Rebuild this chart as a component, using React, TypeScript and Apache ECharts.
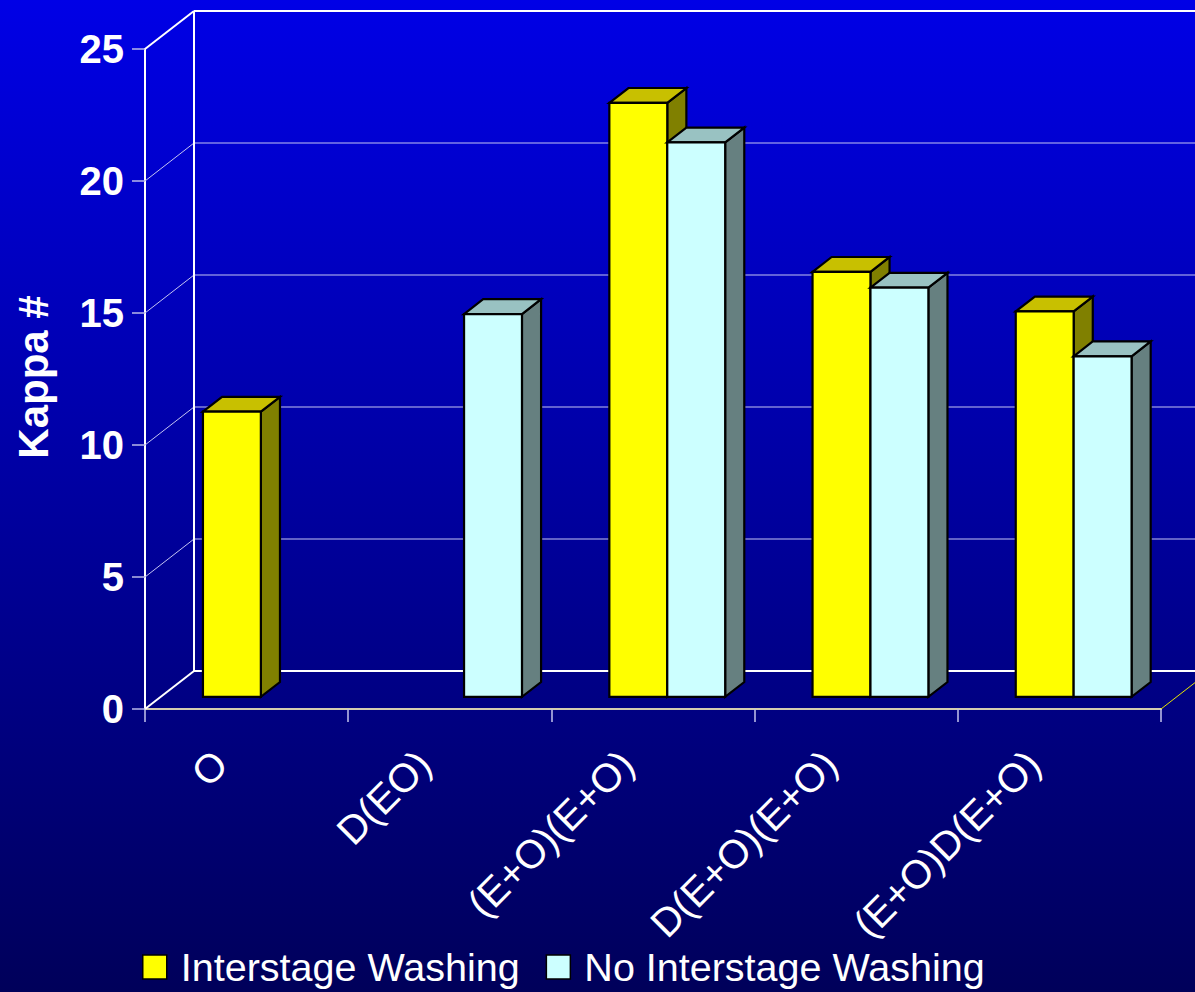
import React, { useEffect, useRef } from "react";
import * as echarts from "echarts";

// Kappa number after each bleaching sequence
const categories = ["O", "D(EO)", "(E+O)(E+O)", "D(E+O)(E+O)", "(E+O)D(E+O)"];
const interstageWashing: (number | null)[] = [10.8, null, 22.5, 16.1, 14.6];
const noInterstageWashing: (number | null)[] = [null, 14.5, 21.0, 15.5, 12.9];
const kappaTicks = [0, 5, 10, 15, 20, 25];
const seriesNames = ["Interstage Washing", "No Interstage Washing"];

const FONT = "'Liberation Sans', Arial, Helvetica, sans-serif";

// pseudo-3D geometry: offset of the back wall from the front plane (px)
const DEPTH_X = 49;
const DEPTH_Y = -38;
// bars sit between these depth fractions of the floor
const BAR_FRONT = 0.32;
const BAR_BACK = 0.71;
// horizontal layout inside one category band
const BAR_GAP = 0.208;
const BAR_W = 0.285;

const palette = [
  { front: "#FFFF00", top: "#C8C000", side: "#808000" },
  { front: "#CCFFFF", top: "#99C2C2", side: "#668080" },
];

function barRenderer(s: number) {
  return (params: any, api: any) => {
    const cat = api.value(0);
    const v = api.value(1);
    const [cx, yv] = api.coord([cat, v]);
    const y0 = api.coord([cat, 0])[1];
    const band = api.size([1, 0])[0];
    const fx = BAR_FRONT * DEPTH_X;
    const fy = BAR_FRONT * DEPTH_Y;
    const dx = (BAR_BACK - BAR_FRONT) * DEPTH_X;
    const dy = (BAR_BACK - BAR_FRONT) * DEPTH_Y;
    const w = band * BAR_W;
    const x0 = cx - band / 2 + band * BAR_GAP + s * w + fx;
    const x1 = x0 + w;
    const yt = yv + fy;
    const yb = y0 + fy;
    const c = palette[s];
    const edge = { stroke: "#000000", lineWidth: 2.2, lineJoin: "miter" };
    return {
      type: "group",
      children: [
        {
          type: "polygon",
          shape: { points: [[x1, yt], [x1 + dx, yt + dy], [x1 + dx, yb + dy], [x1, yb]] },
          style: { fill: c.side, ...edge },
        },
        {
          type: "polygon",
          shape: { points: [[x0, yt], [x1, yt], [x1 + dx, yt + dy], [x0 + dx, yt + dy]] },
          style: { fill: c.top, ...edge },
        },
        {
          type: "rect",
          shape: { x: x0, y: yt, width: w, height: yb - yt },
          style: { fill: c.front, ...edge },
        },
      ],
    };
  };
}

// back wall, side wall and floor edges of the 3D box
function frameRenderer(params: any, api: any) {
  const cs = params.coordSys;
  const left = cs.x;
  const right = cs.x + cs.width;
  const strong = { stroke: "#FFFFFF", lineWidth: 2 };
  const soft = { stroke: "#C4C4F2", lineWidth: 1 };
  const children: any[] = [];
  kappaTicks.forEach((t, k) => {
    const y = api.coord([0, t])[1];
    const isEdge = k === 0 || k === kappaTicks.length - 1;
    children.push({
      type: "line",
      shape: { x1: left + DEPTH_X, y1: y + DEPTH_Y, x2: right + DEPTH_X, y2: y + DEPTH_Y },
      style: isEdge ? strong : soft,
    });
    children.push({
      type: "line",
      shape: { x1: left, y1: y, x2: left + DEPTH_X, y2: y + DEPTH_Y },
      style: isEdge ? strong : soft,
    });
  });
  const yTop = api.coord([0, kappaTicks[kappaTicks.length - 1]])[1];
  const yBottom = api.coord([0, 0])[1];
  children.push({
    type: "line",
    shape: { x1: left + DEPTH_X, y1: yTop + DEPTH_Y, x2: left + DEPTH_X, y2: yBottom + DEPTH_Y },
    style: strong,
  });
  children.push({
    type: "line",
    shape: { x1: right, y1: yBottom, x2: right + DEPTH_X, y2: yBottom + DEPTH_Y },
    style: { stroke: "#E6E600", lineWidth: 1 },
  });
  return { type: "group", children };
}

function toItems(values: (number | null)[]) {
  const out: number[][] = [];
  values.forEach((v, i) => {
    if (v != null) out.push([i, v]);
  });
  return out;
}

export default function App() {
  const ref = useRef<HTMLDivElement>(null);

  useEffect(() => {
    if (!ref.current) return;
    const chart = echarts.init(ref.current, undefined, { renderer: "svg" });
    chart.setOption({
      animation: false,
      backgroundColor: new echarts.graphic.LinearGradient(0, 0, 0, 1, [
        { offset: 0, color: "#0000E6" },
        { offset: 1, color: "#00005A" },
      ]),
      grid: { left: 145, right: 34, top: 49, bottom: 283 },
      xAxis: {
        type: "category",
        data: categories,
        boundaryGap: true,
        axisLine: { show: true, lineStyle: { color: "#D4CCB0", width: 2 } },
        axisTick: { show: true, length: 13, lineStyle: { color: "#C4C4EC", width: 1.5 } },
        axisLabel: {
          interval: 0,
          rotate: 45,
          color: "#FFFFFF",
          fontSize: 40,
          fontFamily: FONT,
          margin: 22,
          padding: [0, 37, 0, 0],
        },
        splitLine: { show: false },
      },
      yAxis: {
        type: "value",
        min: 0,
        max: 25,
        interval: 5,
        axisLine: { show: true, lineStyle: { color: "#FFFFFF", width: 2 } },
        axisTick: { show: true, length: 13, lineStyle: { color: "#B8B8E8", width: 1.5 } },
        axisLabel: {
          color: "#FFFFFF",
          fontSize: 40,
          fontWeight: "bold",
          fontFamily: FONT,
          margin: 21,
        },
        splitLine: { show: false },
      },
      legend: {
        left: 142,
        top: 947,
        padding: 0,
        itemWidth: 24,
        itemHeight: 24,
        itemGap: 26,
        icon: "rect",
        selectedMode: false,
        data: [
          { name: seriesNames[0], itemStyle: { color: palette[0].front, borderColor: "#000", borderWidth: 1.5 } },
          { name: seriesNames[1], itemStyle: { color: palette[1].front, borderColor: "#000", borderWidth: 1.5 } },
        ],
        textStyle: { color: "#FFFFFF", fontSize: 39.5, fontFamily: FONT, padding: [0, 0, 0, 9] },
      },
      graphic: [
        {
          type: "text",
          x: 33,
          y: 377,
          rotation: Math.PI / 2,
          style: {
            text: "Kappa #",
            fill: "#FFFFFF",
            font: `bold 42px ${FONT}`,
            align: "center",
            verticalAlign: "middle",
          },
        },
      ],
      series: [
        {
          type: "custom",
          name: "frame",
          silent: true,
          z: 1,
          data: [[0, 0]],
          renderItem: frameRenderer,
        },
        {
          type: "custom",
          name: seriesNames[0],
          z: 3,
          itemStyle: { color: palette[0].front },
          data: toItems(interstageWashing),
          renderItem: barRenderer(0),
        },
        {
          type: "custom",
          name: seriesNames[1],
          z: 3,
          itemStyle: { color: palette[1].front },
          data: toItems(noInterstageWashing),
          renderItem: barRenderer(1),
        },
      ],
    });
    return () => chart.dispose();
  }, []);

  return (
    <div
      ref={ref}
      style={{ position: "absolute", left: 0, top: 0, width: 1195, height: 992 }}
    />
  );
}
